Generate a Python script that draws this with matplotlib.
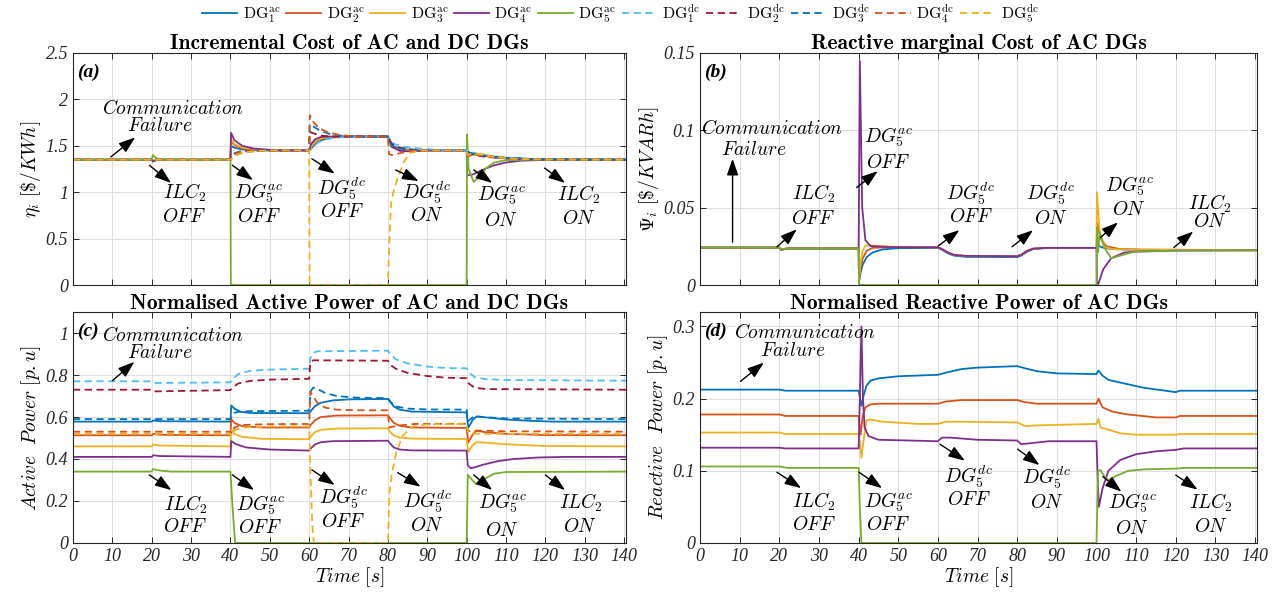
import matplotlib
matplotlib.use('Agg')
import matplotlib.pyplot as plt
from matplotlib.lines import Line2D

plt.rcParams['mathtext.fontset'] = 'cm'
plt.rcParams['font.family'] = ['Liberation Serif', 'DejaVu Serif']

# MATLAB default colour order
blue, orange, yellow, purple, green = '#0072BD', '#D95319', '#EDB120', '#7E2F8E', '#77AC30'
cyan, darkred = '#4DBEEE', '#A2142F'

# ---------------- (a) incremental cost [$/KWh], (time, value) pairs
a_ac1 = [(0, 1.35), (20, 1.35), (20.3, 1.34), (21.5, 1.35), (40, 1.35), (40.15, 1.50), (41, 1.48), (43, 1.46),
         (47, 1.45), (60, 1.45), (60.5, 1.47), (61.5, 1.52), (63, 1.56), (66, 1.59), (70, 1.60), (80, 1.60),
         (81, 1.50), (83, 1.47), (87, 1.45), (100, 1.45), (100.5, 1.43), (102, 1.41), (105, 1.39), (110, 1.37),
         (115, 1.36), (120, 1.355), (140.5, 1.35)]
a_ac2 = [(0, 1.35), (20, 1.35), (20.3, 1.335), (21.5, 1.35), (40, 1.35), (40.15, 1.55), (41, 1.51), (43, 1.47),
         (47, 1.455), (52, 1.45), (60, 1.45), (60.5, 1.48), (61.5, 1.54), (63, 1.575), (66, 1.595), (70, 1.60),
         (80, 1.60), (81, 1.49), (83, 1.46), (87, 1.45), (100, 1.45), (100.3, 1.38), (101.5, 1.41), (103, 1.405),
         (107, 1.375), (112, 1.36), (120, 1.352), (140.5, 1.35)]
a_ac3 = [(0, 1.35), (20, 1.35), (20.3, 1.335), (21.5, 1.35), (40, 1.35), (40.15, 1.57), (41, 1.52), (43, 1.48),
         (47, 1.46), (52, 1.45), (60, 1.45), (60.5, 1.49), (61.5, 1.55), (63, 1.58), (66, 1.598), (70, 1.60),
         (80, 1.60), (81, 1.48), (83, 1.455), (87, 1.45), (100, 1.45), (100.3, 1.40), (101.5, 1.42), (103, 1.415),
         (107, 1.385), (112, 1.362), (120, 1.352), (140.5, 1.35)]
a_ac4 = [(0, 1.35), (20, 1.35), (20.3, 1.33), (21.5, 1.35), (40, 1.35), (40.15, 1.64), (41, 1.56), (43, 1.50),
         (46, 1.47), (52, 1.45), (60, 1.45), (60.5, 1.52), (61.5, 1.57), (63, 1.595), (66, 1.60), (80, 1.60),
         (81, 1.49), (83, 1.445), (86, 1.44), (90, 1.45), (100, 1.45), (100.2, 1.18), (101.5, 1.19), (104, 1.24),
         (107, 1.29), (110, 1.32), (114, 1.34), (120, 1.348), (140.5, 1.35)]
a_ac5 = [(0, 1.35), (20, 1.35), (20.3, 1.40), (21, 1.37), (22, 1.35), (40, 1.35), (40.1, 0), (100, 0),
         (100.1, 1.62), (100.5, 1.25), (101.8, 1.11), (103, 1.16), (105, 1.26), (107, 1.32), (110, 1.345),
         (115, 1.35), (140.5, 1.35)]
a_dc1 = [(0, 1.35), (40, 1.35), (40.5, 1.37), (41.5, 1.40), (43.5, 1.43), (47, 1.445), (52, 1.45), (60, 1.45),
         (61, 1.48), (62, 1.53), (64, 1.57), (67, 1.59), (72, 1.60), (80, 1.60), (81.5, 1.52), (84, 1.49),
         (88, 1.47), (93, 1.455), (100, 1.45), (101, 1.44), (103, 1.41), (106, 1.39), (110, 1.375), (116, 1.36),
         (125, 1.352), (140.5, 1.35)]
a_dc2 = [(0, 1.35), (40, 1.35), (40.3, 1.37), (41, 1.41), (42.5, 1.435), (46, 1.448), (60, 1.45), (60.15, 1.65),
         (61, 1.635), (63, 1.61), (66, 1.60), (80, 1.60), (81, 1.52), (83, 1.48), (86, 1.46), (90, 1.45),
         (100, 1.45), (100.5, 1.42), (102, 1.40), (105, 1.38), (110, 1.365), (118, 1.352), (140.5, 1.35)]
a_dc3 = [(0, 1.35), (40, 1.35), (40.3, 1.38), (41, 1.42), (42.5, 1.44), (46, 1.45), (60, 1.45), (60.15, 1.73),
         (61, 1.71), (62.5, 1.67), (65, 1.63), (68, 1.61), (72, 1.60), (80, 1.60), (81, 1.50), (83, 1.47),
         (87, 1.455), (100, 1.45), (100.5, 1.43), (102, 1.41), (105, 1.39), (110, 1.37), (118, 1.355), (140.5, 1.35)]
a_dc4 = [(0, 1.35), (40, 1.35), (40.3, 1.37), (41, 1.41), (42.5, 1.435), (46, 1.448), (60, 1.45), (60.15, 1.83),
         (61, 1.76), (62.5, 1.69), (65, 1.64), (68, 1.615), (72, 1.60), (80, 1.60), (80.3, 1.41), (81, 1.40),
         (83, 1.42), (86, 1.445), (90, 1.45), (100, 1.45), (100.3, 1.39), (101.5, 1.41), (103, 1.40),
         (107, 1.375), (112, 1.36), (120, 1.352), (140.5, 1.35)]
a_dc5 = [(0, 1.35), (40, 1.35), (40.3, 1.36), (41.5, 1.40), (43.5, 1.43), (47, 1.445), (52, 1.45), (60, 1.45),
         (60.1, 0), (80, 0), (80.3, 0.40), (80.8, 0.88), (81.5, 1.02), (82.5, 1.15), (84, 1.32), (85.5, 1.42),
         (88, 1.45), (100, 1.45), (100.3, 1.40), (101.5, 1.42), (103, 1.41), (107, 1.38), (112, 1.36),
         (120, 1.352), (140.5, 1.35)]

# ---------------- (b) reactive marginal cost [$/KVARh]
b_ac1 = [(0, 0.0242), (20, 0.0242), (20.4, 0.0228), (22, 0.0236), (40, 0.0236), (40.1, 0.002), (40.5, 0.008),
         (41, 0.013), (42, 0.018), (43.5, 0.021), (46, 0.023), (50, 0.0238), (60, 0.024), (61, 0.0228),
         (62.5, 0.0205), (64, 0.019), (67, 0.0182), (80, 0.018), (81, 0.019), (82.5, 0.0215), (84, 0.0232),
         (87, 0.0238), (100, 0.024), (100.4, 0.0255), (101.5, 0.0242), (104, 0.0232), (110, 0.0228), (140.5, 0.0226)]
b_ac2 = [(0, 0.0242), (20, 0.0242), (20.4, 0.0228), (22, 0.0236), (40, 0.0236), (40.1, 0.003), (40.5, 0.011),
         (41, 0.017), (42, 0.022), (43.5, 0.024), (48, 0.0245), (60, 0.0243), (61, 0.0232), (62.5, 0.021),
         (64, 0.0195), (67, 0.0187), (80, 0.0185), (81, 0.0195), (82.5, 0.022), (84, 0.0235), (87, 0.024),
         (100, 0.024), (100.2, 0.040), (101, 0.030), (102.5, 0.025), (106, 0.0232), (112, 0.0228), (140.5, 0.0226)]
b_ac3 = [(0, 0.0242), (20, 0.0242), (20.4, 0.0228), (22, 0.0236), (40, 0.0236), (40.1, 0.004), (40.5, 0.015),
         (41, 0.022), (41.7, 0.0255), (43, 0.0256), (48, 0.0248), (60, 0.0244), (61, 0.0233), (62.5, 0.021),
         (64, 0.0195), (67, 0.0188), (80, 0.0186), (81, 0.0195), (82.5, 0.022), (84, 0.0235), (87, 0.024),
         (100, 0.024), (100.1, 0.060), (100.8, 0.035), (102, 0.0245), (104, 0.0232), (110, 0.0228), (140.5, 0.0226)]
b_ac4 = [(0, 0.0242), (20, 0.0242), (20.4, 0.0228), (22, 0.0236), (40, 0.0236), (40.3, 0.145), (40.9, 0.05),
         (41.7, 0.029), (43, 0.0252), (48, 0.0245), (60, 0.0244), (61, 0.0233), (62.5, 0.021), (64, 0.0195),
         (67, 0.0188), (80, 0.0186), (81, 0.0195), (82.5, 0.022), (84, 0.0235), (87, 0.024), (100, 0.024),
         (100.1, 0), (100.5, 0.001), (101.7, 0.0102), (103.7, 0.0173), (107, 0.021), (110, 0.0216), (120, 0.0222),
         (140.5, 0.0224)]
b_ac5 = [(0, 0.0242), (20, 0.0242), (20.4, 0.0232), (22, 0.0236), (40, 0.0236), (40.1, 0), (100, 0),
         (100.1, 0.037), (100.4, 0.021), (100.8, 0.034), (102, 0.024), (103.7, 0.0173), (106, 0.019),
         (109.6, 0.0216), (120, 0.0222), (140.5, 0.0224)]

# ---------------- (c) normalised active power [p.u]
c_ac1 = [(0, 0.578), (20, 0.578), (20.4, 0.584), (22, 0.58), (40, 0.578), (40.2, 0.655), (41, 0.64), (42.5, 0.625),
         (45, 0.619), (60, 0.618), (60.5, 0.63), (61.5, 0.652), (63, 0.668), (66, 0.679), (70, 0.684), (80, 0.686),
         (80.5, 0.675), (81.5, 0.65), (83, 0.635), (86, 0.626), (100, 0.622), (100.4, 0.548), (101.5, 0.585),
         (102.5, 0.602), (105, 0.598), (110, 0.588), (116, 0.582), (122, 0.578), (140.5, 0.578)]
c_ac2 = [(0, 0.513), (20, 0.513), (20.4, 0.52), (22, 0.515), (40, 0.513), (40.2, 0.59), (41, 0.572), (43, 0.556),
         (48, 0.55), (60, 0.55), (60.5, 0.565), (61.5, 0.585), (63, 0.6), (67, 0.607), (80, 0.608), (80.5, 0.595),
         (81.5, 0.572), (83, 0.558), (86, 0.55), (100, 0.548), (100.4, 0.478), (101.5, 0.515), (102.5, 0.535),
         (105, 0.527), (110, 0.52), (120, 0.514), (140.5, 0.513)]
c_ac3 = [(0, 0.46), (20, 0.46), (20.4, 0.47), (22, 0.464), (40, 0.46), (40.2, 0.54), (41, 0.52), (43, 0.505),
         (48, 0.496), (60, 0.494), (60.5, 0.51), (61.5, 0.528), (63, 0.539), (67, 0.545), (80, 0.546), (80.5, 0.53),
         (81.5, 0.512), (83, 0.502), (86, 0.497), (100, 0.495), (100.4, 0.433), (101.5, 0.465), (102.5, 0.48),
         (105, 0.478), (110, 0.47), (120, 0.462), (140.5, 0.46)]
c_ac4 = [(0, 0.41), (20, 0.41), (20.4, 0.418), (22, 0.414), (40, 0.41), (40.2, 0.485), (41.5, 0.47), (44, 0.455),
         (50, 0.445), (60, 0.44), (60.5, 0.452), (61.5, 0.47), (63, 0.48), (66, 0.485), (80, 0.487), (80.5, 0.475),
         (81.5, 0.455), (83, 0.445), (86, 0.441), (100, 0.44), (100.3, 0.37), (101, 0.356), (102, 0.36),
         (104, 0.372), (108, 0.39), (112, 0.4), (118, 0.407), (125, 0.41), (140.5, 0.41)]
c_ac5 = [(0, 0.34), (20, 0.34), (20.3, 0.352), (22, 0.345), (25, 0.34), (40, 0.34), (40.6, 0.15), (41.2, 0),
         (100, 0), (100.3, 0.325), (101.5, 0.298), (102.5, 0.28), (103.5, 0.285), (105, 0.31), (107, 0.33),
         (110, 0.338), (140.5, 0.34)]
c_dc1 = [(0, 0.77), (20, 0.77), (20.5, 0.762), (40, 0.765), (40.5, 0.78), (42, 0.805), (45, 0.82), (50, 0.826),
         (60, 0.83), (60.3, 0.88), (61, 0.905), (62, 0.913), (80, 0.916), (80.5, 0.9), (82, 0.875), (85, 0.855),
         (90, 0.84), (95, 0.833), (100, 0.832), (100.5, 0.815), (102, 0.79), (105, 0.78), (110, 0.776),
         (140.5, 0.773)]
c_dc2 = [(0, 0.73), (20, 0.73), (20.5, 0.722), (40, 0.728), (40.5, 0.74), (42, 0.76), (45, 0.772), (50, 0.778),
         (60, 0.782), (60.3, 0.86), (61, 0.87), (80, 0.868), (80.5, 0.85), (82, 0.83), (85, 0.81), (90, 0.795),
         (95, 0.787), (100, 0.785), (100.5, 0.76), (102, 0.74), (105, 0.733), (140.5, 0.73)]
c_dc3 = [(0, 0.59), (40, 0.59), (40.3, 0.6), (41, 0.62), (42, 0.625), (45, 0.628), (60, 0.63), (60.3, 0.72),
         (61, 0.74), (62, 0.735), (64, 0.715), (67, 0.70), (72, 0.692), (80, 0.69), (80.5, 0.675), (82, 0.65),
         (85, 0.64), (90, 0.636), (100, 0.635), (100.3, 0.58), (101, 0.59), (102, 0.605), (104, 0.6), (110, 0.593),
         (140.5, 0.59)]
c_dc4 = [(0, 0.53), (40, 0.53), (40.3, 0.52), (41, 0.55), (43, 0.562), (50, 0.566), (60, 0.567), (60.3, 0.72),
         (61, 0.70), (62, 0.67), (64, 0.645), (67, 0.635), (72, 0.632), (80, 0.632), (80.3, 0.55), (81, 0.553),
         (83, 0.56), (87, 0.567), (100, 0.568), (100.3, 0.53), (101, 0.535), (103, 0.535), (110, 0.532),
         (140.5, 0.53)]
c_dc5 = [(0, 0.52), (40, 0.52), (40.3, 0.51), (41, 0.535), (43, 0.55), (50, 0.555), (60, 0.555), (60.3, 0.35),
         (60.8, 0.08), (61.2, 0), (80, 0), (80.4, 0.24), (81, 0.33), (82.1, 0.43), (83.7, 0.51), (86.2, 0.554),
         (90, 0.565), (100, 0.567), (100.3, 0.53), (101, 0.52), (140.5, 0.52)]

# ---------------- (d) normalised reactive power [p.u]
d_ac1 = [(0, 0.2125), (20, 0.2125), (21.5, 0.211), (40, 0.211), (40.7, 0.19), (41.3, 0.205), (42, 0.218),
         (43, 0.225), (45, 0.228), (50, 0.231), (60, 0.233), (62, 0.236), (66, 0.241), (70, 0.243), (80, 0.245),
         (82, 0.242), (85, 0.238), (90, 0.235), (100, 0.234), (100.5, 0.239), (101.5, 0.232), (103, 0.226),
         (107, 0.221), (112, 0.215), (116, 0.212), (120, 0.209), (121, 0.211), (140.5, 0.211)]
d_ac2 = [(0, 0.178), (20, 0.178), (21.5, 0.176), (40, 0.176), (40.5, 0.15), (41, 0.175), (41.7, 0.188),
         (43, 0.192), (45, 0.193), (60, 0.193), (62, 0.196), (66, 0.198), (80, 0.198), (82, 0.195), (85, 0.193),
         (100, 0.193), (100.5, 0.2), (101.5, 0.188), (104, 0.182), (108, 0.178), (115, 0.174), (120, 0.174),
         (121, 0.176), (140.5, 0.176)]
d_ac3 = [(0, 0.153), (20, 0.153), (21.5, 0.151), (40, 0.151), (40.3, 0.14), (40.7, 0.118), (41.2, 0.14),
         (42, 0.17), (43, 0.171), (46, 0.168), (55, 0.165), (60, 0.165), (62, 0.168), (66, 0.168), (80, 0.167),
         (82, 0.162), (85, 0.163), (100, 0.165), (100.5, 0.172), (101, 0.16), (103, 0.157), (106, 0.152),
         (110, 0.15), (120, 0.15), (121, 0.151), (140.5, 0.151)]
d_ac4 = [(0, 0.132), (20, 0.132), (21.5, 0.131), (40, 0.131), (40.3, 0.2), (40.7, 0.30), (41.1, 0.2),
         (41.5, 0.16), (42.5, 0.148), (45, 0.143), (60, 0.141), (61, 0.146), (63, 0.146), (70, 0.143), (80, 0.142),
         (81, 0.137), (83, 0.138), (88, 0.141), (100, 0.141), (100.3, 0.09), (100.6, 0.05), (101.5, 0.075),
         (103, 0.1), (106, 0.115), (110, 0.123), (115, 0.127), (120, 0.129), (122, 0.131), (140.5, 0.131)]
d_ac5 = [(0, 0.106), (20, 0.106), (22, 0.104), (40, 0.104), (40.3, 0.05), (40.7, 0), (100, 0), (100.4, 0.1),
         (101, 0.101), (102, 0.092), (103, 0.087), (105, 0.093), (108, 0.1), (112, 0.102), (120, 0.103),
         (122, 0.104), (140.5, 0.104)]

legend_labels = [r'$\mathrm{DG}_%d^{\mathrm{ac}}$' % i for i in range(1, 6)] + \
                [r'$\mathrm{DG}_%d^{\mathrm{dc}}$' % i for i in range(1, 6)]
x_ticks = list(range(0, 141, 10))
a_yticks, a_ylabels = [0, 0.5, 1, 1.5, 2, 2.5], ['0', '0.5', '1', '1.5', '2', '2.5']
b_yticks, b_ylabels = [0, 0.05, 0.1, 0.15], ['0', '0.05', '0.1', '0.15']
c_yticks, c_ylabels = [0, 0.2, 0.4, 0.6, 0.8, 1], ['0', '0.2', '0.4', '0.6', '0.8', '1']
d_yticks, d_ylabels = [0, 0.1, 0.2, 0.3], ['0', '0.1', '0.2', '0.3']

ac_cols = [blue, orange, yellow, purple, green]
dc_cols = [cyan, darkred, blue, orange, yellow]
dash = (0, (4, 2.5))

fig = plt.figure(figsize=(12.74, 5.94), dpi=100)
ax_a = fig.add_axes([0.0573, 0.5202, 0.4341, 0.3906])
ax_b = fig.add_axes([0.5495, 0.5202, 0.4372, 0.3906])
ax_c = fig.add_axes([0.0573, 0.0859, 0.4341, 0.3888])
ax_d = fig.add_axes([0.5495, 0.0859, 0.4372, 0.3888])


def draw(ax, ac, dc=()):
    for s, col in zip(ac, ac_cols):
        t, v = zip(*s)
        ax.plot(t, v, color=col, lw=1.3)
    for s, col in zip(dc, dc_cols):
        t, v = zip(*s)
        ax.plot(t, v, color=col, lw=1.3, ls=dash)


draw(ax_a, [a_ac1, a_ac2, a_ac3, a_ac4, a_ac5], [a_dc1, a_dc2, a_dc3, a_dc4, a_dc5])
draw(ax_b, [b_ac1, b_ac2, b_ac3, b_ac4, b_ac5])
draw(ax_c, [c_ac1, c_ac2, c_ac3, c_ac4, c_ac5], [c_dc1, c_dc2, c_dc3, c_dc4, c_dc5])
draw(ax_d, [d_ac1, d_ac2, d_ac3, d_ac4, d_ac5])

tick_font = dict(family='Liberation Serif', style='italic', size=13)
setup = [(ax_a, (0, 2.5), a_yticks, a_ylabels, r'$\eta_i\ [\$/KWh]$', 'Incremental Cost of AC and DC DGs', '(a)'),
         (ax_b, (0, 0.15), b_yticks, b_ylabels, r'$\Psi_i\ [\$/KVARh]$', 'Reactive marginal Cost of AC DGs', '(b)'),
         (ax_c, (0, 1.1), c_yticks, c_ylabels, r'$Active\ \ Power\ [p.u]$',
          'Normalised Active Power of AC and DC DGs', '(c)'),
         (ax_d, (0, 0.32), d_yticks, d_ylabels, r'$Reactive\ \ Power\ [p.u]$',
          'Normalised Reactive Power of AC DGs', '(d)')]
for ax, ylim, yt, yl, ylab, title, tag in setup:
    ax.set_xlim(0, 140.5)
    ax.set_ylim(*ylim)
    ax.set_xticks(x_ticks)
    ax.set_yticks(yt)
    ax.set_yticklabels(yl, fontdict=tick_font)
    ax.grid(True, color='#dedede', lw=0.7)
    ax.set_axisbelow(True)
    ax.tick_params(direction='in', top=True, right=True, length=4, width=0.7, colors='#262626')
    for sp in ax.spines.values():
        sp.set_color('#262626')
        sp.set_linewidth(0.8)
    ax.set_ylabel(ylab, fontsize=14, labelpad=2)
    ax.set_title(title, family='cmb10', fontsize=15.5, pad=2)
    ax.text(0.008, 0.955, tag, transform=ax.transAxes, family='Liberation Serif', weight='bold',
            style='italic', fontsize=14, ha='left', va='top')

for ax in (ax_a, ax_b):
    ax.set_xticklabels([])
for ax in (ax_c, ax_d):
    ax.set_xticklabels([str(x) for x in x_ticks], fontdict=tick_font)
    ax.set_xlabel(r'$Time\ [s]$', fontsize=14, labelpad=0)

ILC, DGac, DGdc = r'$ILC_2$', r'$DG_5^{ac}$', r'$DG_5^{dc}$'
OFF, ON = r'$OFF$', r'$ON$'
aprops = dict(arrowstyle='-|>,head_length=1.0,head_width=0.35', color='k', lw=1.0, shrinkA=0, shrinkB=0,
              mutation_scale=10)


def note(ax, tail, head, line1, p1, line2, p2):
    ax.annotate('', xy=head, xytext=tail, arrowprops=aprops)
    ax.text(p1[0], p1[1], line1, fontsize=14, ha='center', va='center')
    ax.text(p2[0], p2[1], line2, fontsize=14, ha='center', va='center')


# (a)
note(ax_a, (9.6, 1.38), (15.8, 1.59), r'$Communication$', (25.4, 1.90), r'$Failure$', (22.1, 1.71))
note(ax_a, (19.4, 1.29), (24.9, 1.10), ILC, (28.5, 0.99), OFF, (28.3, 0.73))
note(ax_a, (40.5, 1.29), (45.7, 1.13), DGac, (47.2, 0.99), OFF, (47.2, 0.73))
note(ax_a, (60.7, 1.36), (66.5, 1.20), DGdc, (68.3, 1.04), OFF, (68.3, 0.79))
note(ax_a, (82.0, 1.24), (87.8, 1.12), DGdc, (89.9, 0.99), ON, (89.9, 0.74))
note(ax_a, (101.8, 1.24), (106.5, 1.10), DGac, (108.8, 0.97), ON, (108.8, 0.69))
note(ax_a, (119.8, 1.26), (125.0, 1.10), ILC, (128.5, 0.97), ON, (128.5, 0.71))

# (b)
note(ax_b, (8.2, 0.0277), (8.2, 0.0816), r'$Communication$', (18.2, 0.101), r'$Failure$', (13.6, 0.087))
note(ax_b, (19.4, 0.0247), (24.4, 0.036), ILC, (28.6, 0.0589), OFF, (28.6, 0.0427))
note(ax_b, (39.5, 0.063), (44.8, 0.0736), DGac, (47.4, 0.0957), OFF, (47.4, 0.079))
note(ax_b, (60.1, 0.0253), (65.4, 0.0355), DGdc, (68.3, 0.0589), OFF, (68.3, 0.0437))
note(ax_b, (78.7, 0.0247), (84.0, 0.0355), DGdc, (88.4, 0.0589), ON, (88.4, 0.0427))
note(ax_b, (101.0, 0.0307), (105.4, 0.0405), DGac, (108.2, 0.0643), ON, (108.2, 0.0485))
note(ax_b, (119.5, 0.0242), (124.4, 0.0346), ILC, (128.6, 0.0524), ON, (128.6, 0.0405))

# (c)
note(ax_c, (10.0, 0.773), (15.6, 0.863), r'$Communication$', (25.4, 0.99), r'$Failure$', (22.1, 0.906))
note(ax_c, (19.4, 0.324), (25.0, 0.252), ILC, (28.7, 0.181), OFF, (28.5, 0.075))
note(ax_c, (40.5, 0.324), (46.0, 0.252), DGac, (47.5, 0.18), OFF, (47.5, 0.07))
note(ax_c, (60.7, 0.348), (66.5, 0.276), DGdc, (68.7, 0.214), OFF, (68.5, 0.10))
note(ax_c, (82.5, 0.335), (88.3, 0.268), DGdc, (90.0, 0.198), ON, (90.0, 0.081))
note(ax_c, (101.8, 0.324), (106.5, 0.252), DGac, (109.0, 0.19), ON, (109.0, 0.059))
note(ax_c, (120.0, 0.324), (125.0, 0.252), ILC, (129.0, 0.19), ON, (128.8, 0.078))

# (d)
note(ax_d, (10.2, 0.224), (16.1, 0.25), r'$Communication$', (26.5, 0.291), r'$Failure$', (23.4, 0.266))
note(ax_d, (19.4, 0.098), (25.5, 0.076), ILC, (28.7, 0.057), OFF, (28.7, 0.025))
note(ax_d, (40.1, 0.098), (45.9, 0.076), DGac, (47.5, 0.057), OFF, (47.5, 0.025))
note(ax_d, (60.5, 0.137), (66.8, 0.114), DGdc, (67.8, 0.092), OFF, (67.8, 0.060))
note(ax_d, (80.1, 0.130), (85.6, 0.108), DGdc, (87.4, 0.09), ON, (87.4, 0.056))
note(ax_d, (101.6, 0.092), (106.3, 0.071), DGac, (109.0, 0.055), ON, (109.0, 0.020))
note(ax_d, (120.0, 0.094), (125.5, 0.074), ILC, (128.9, 0.055), ON, (128.9, 0.022))

handles = [Line2D([], [], color=c, lw=1.3) for c in ac_cols] + \
          [Line2D([], [], color=c, lw=1.3, ls=dash) for c in dc_cols]
fig.legend(handles, legend_labels, loc='upper center', bbox_to_anchor=(0.487, 1.01), ncol=10, frameon=False,
           fontsize=11.5, handlelength=2.2, columnspacing=0.35, handletextpad=0.35, borderaxespad=0.1)

fig.savefig('out.png', dpi=100)
